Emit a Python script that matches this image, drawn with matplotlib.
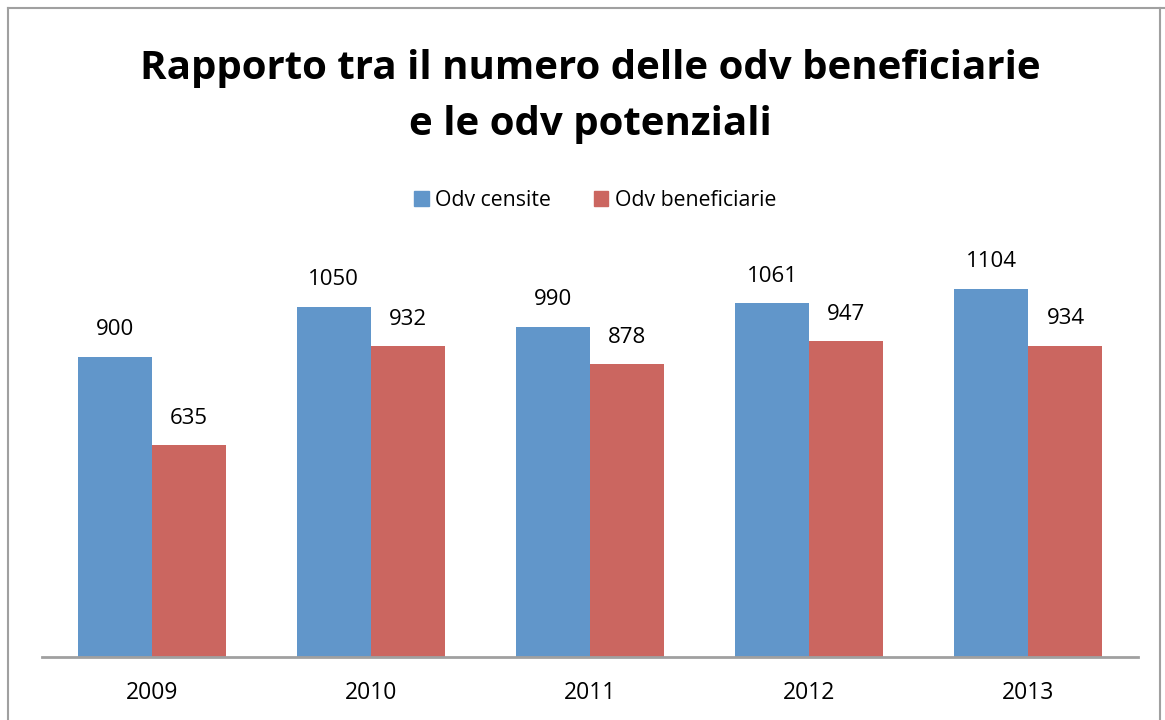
import numpy as np
import matplotlib.pyplot as plt
from matplotlib.lines import Line2D
from matplotlib.patches import Rectangle

plt.rcParams['font.family'] = ['Open Sans', 'DejaVu Sans']

years = ['2009', '2010', '2011', '2012', '2013']
censite = [900, 1050, 990, 1061, 1104]
beneficiarie = [635, 932, 878, 947, 934]

blue = '#6196CA'
red = '#CB6660'

fig = plt.figure(figsize=(11.65, 7.2), dpi=100)
ax = fig.add_axes([42 / 1165, 63 / 720, (1138 - 42) / 1165, 400 / 720])

x = np.arange(len(years))
w = 0.338
b1 = ax.bar(x - w / 2, censite, w, color=blue, label='Odv censite')
b2 = ax.bar(x + w / 2, beneficiarie, w, color=red, label='Odv beneficiarie')

for bars, vals in ((b1, censite), (b2, beneficiarie)):
    for r, v in zip(bars, vals):
        ax.annotate(str(v), (r.get_x() + r.get_width() / 2, v), xytext=(0, 12),
                    textcoords='offset points', ha='center', va='bottom', fontsize=16)

ax.set_xlim(-0.5, len(years) - 0.5)
ax.set_ylim(0, 1200)
ax.set_xticks(x)
ax.set_xticklabels(years, fontsize=16.5)
ax.tick_params(axis='x', length=0, pad=17)
ax.set_yticks([])
for s in ['top', 'right', 'left']:
    ax.spines[s].set_visible(False)
ax.spines['bottom'].set_color('#A0A0A0')
ax.spines['bottom'].set_linewidth(2)

fig.text(0.507, 1 - 68 / 720, 'Rapporto tra il numero delle odv beneficiarie',
         ha='center', va='center', fontsize=29, fontweight='bold')
fig.text(0.507, 1 - 125 / 720, 'e le odv potenziali',
         ha='center', va='center', fontsize=29, fontweight='bold')

handles = [Rectangle((0, 0), 1, 1, color=blue), Rectangle((0, 0), 1, 1, color=red)]
fig.legend(handles, ['Odv censite', 'Odv beneficiarie'], loc='center', bbox_to_anchor=(595 / 1165, 1 - 200 / 720),
           ncol=2, frameon=False, fontsize=15.3, handlelength=0.7, handleheight=0.7,
           handletextpad=0.3, columnspacing=2.0)

# outer frame
fig.add_artist(Line2D([8 / 1165, 8 / 1165], [0, 1 - 8 / 720], color='#A0A0A0', lw=1.5, transform=fig.transFigure))
fig.add_artist(Line2D([8 / 1165, 1], [1 - 8 / 720, 1 - 8 / 720], color='#A0A0A0', lw=1.5, transform=fig.transFigure))
fig.add_artist(Line2D([1160 / 1165, 1160 / 1165], [0, 1 - 8 / 720], color='#A0A0A0', lw=1.5, transform=fig.transFigure))

fig.savefig('out.png', dpi=100)
